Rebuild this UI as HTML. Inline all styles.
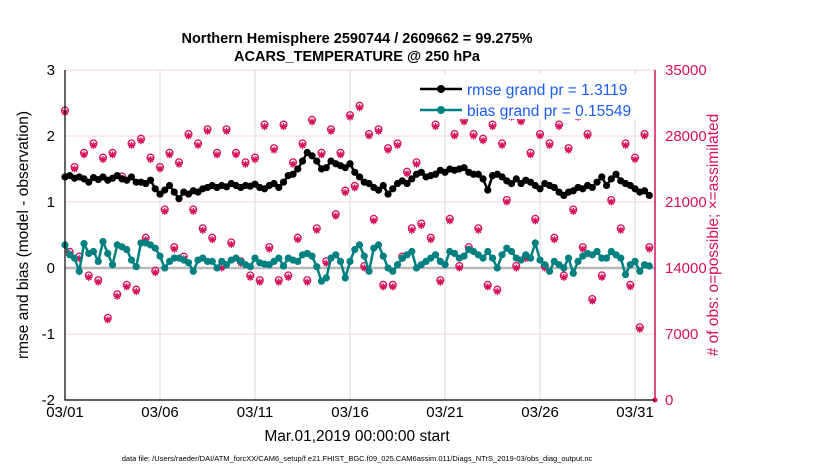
<!DOCTYPE html>
<html><head><meta charset="utf-8"><style>
body{margin:0;background:#fff;width:830px;height:470px;overflow:hidden;font-family:"Liberation Sans",sans-serif}
</style></head><body>
<svg id="chart" width="830" height="470" xmlns="http://www.w3.org/2000/svg" font-family="Liberation Sans, sans-serif">
<text x="357" y="43" text-anchor="middle" font-size="14.5" font-weight="bold">Northern Hemisphere 2590744 / 2609662 = 99.275%</text>
<text x="357" y="61" text-anchor="middle" font-size="14.5" font-weight="bold">ACARS_TEMPERATURE @ 250 hPa</text>
<g id="grid"></g>
<g id="marks"></g>
<g id="axes"></g>
<text transform="translate(28,235) rotate(-90)" text-anchor="middle" font-size="15.5">rmse and bias (model - observation)</text>
<text transform="translate(718,235) rotate(-90)" text-anchor="middle" font-size="15.5" fill="#d6105a"># of obs: o=possible; ×=assimilated</text>
<text x="357" y="441" text-anchor="middle" font-size="15.5">Mar.01,2019 00:00:00 start</text>
<text x="357" y="461" text-anchor="middle" font-size="7.5">data file: /Users/raeder/DAI/ATM_forcXX/CAM6_setup/f.e21.FHIST_BGC.f09_025.CAM6assim.011/Diags_NTrS_2019-03/obs_diag_output.nc</text>
<g>
<rect x="413" y="74" width="238" height="45" fill="#fff" stroke="none"/>
<line x1="420" y1="89" x2="462" y2="89" stroke="#000" stroke-width="2.5"/><circle cx="441" cy="89" r="4" fill="#000"/>
<text x="467" y="95" font-size="15.5" fill="#1a5cf0">rmse grand pr = 1.3119</text>
<line x1="420" y1="110" x2="462" y2="110" stroke="#008080" stroke-width="2.5"/><circle cx="441" cy="110" r="4" fill="#008080"/>
<text x="467" y="116" font-size="15.5" fill="#1a5cf0">bias grand pr = 0.15549</text>
</g>
</svg>
<script>
const rmse=[1.38,1.40,1.36,1.38,1.35,1.30,1.37,1.34,1.38,1.33,1.36,1.40,1.35,1.33,1.38,1.30,1.30,1.28,1.33,1.20,1.12,1.18,1.25,1.15,1.05,1.15,1.12,1.17,1.15,1.20,1.22,1.25,1.22,1.25,1.23,1.28,1.25,1.22,1.25,1.24,1.27,1.22,1.20,1.25,1.28,1.22,1.30,1.40,1.42,1.50,1.62,1.75,1.70,1.62,1.50,1.52,1.62,1.58,1.55,1.52,1.58,1.45,1.38,1.30,1.28,1.22,1.18,1.25,1.12,1.20,1.28,1.32,1.28,1.35,1.42,1.45,1.38,1.40,1.42,1.48,1.45,1.50,1.48,1.50,1.52,1.45,1.42,1.42,1.35,1.18,1.40,1.42,1.38,1.32,1.28,1.35,1.28,1.33,1.30,1.25,1.20,1.28,1.25,1.22,1.15,1.10,1.15,1.17,1.22,1.20,1.25,1.22,1.30,1.38,1.25,1.35,1.42,1.32,1.28,1.25,1.20,1.15,1.17,1.10];
const bias=[0.35,0.20,0.15,-0.05,0.37,0.22,0.25,0.10,0.40,0.22,0.05,0.35,0.32,0.28,0.12,0.02,0.38,0.38,0.35,0.30,0.18,0.0,0.10,0.15,0.15,0.12,0.08,-0.05,0.12,0.15,0.10,0.10,0.0,0.10,0.05,0.12,0.15,0.10,0.05,0.02,0.15,0.08,0.06,0.05,0.10,0.15,0.03,0.15,0.12,0.10,0.20,0.22,0.18,0.02,-0.20,-0.15,0.15,0.20,0.10,-0.15,0.10,0.28,0.35,0.18,-0.05,0.30,0.35,0.18,0.0,-0.05,0.05,0.15,0.20,0.25,0.0,0.05,0.10,0.15,0.20,0.10,0.05,0.25,0.22,0.15,0.18,0.28,0.25,0.20,0.15,0.25,0.15,0.0,0.20,0.30,0.25,0.15,0.12,0.20,0.15,0.38,0.12,0.05,-0.05,0.10,0.05,0.0,0.15,-0.08,0.10,0.18,0.22,0.20,0.25,0.15,0.15,0.25,0.20,0.15,-0.10,0.05,0.10,-0.05,0.05,0.03];
const nobs=[30.5,15.5,24.5,15.0,26,13,27,12.5,25.5,8.5,26,11,23.5,12,27,11.5,27.5,17,25.5,13.5,24.5,20,26,16,25,15,28,20,27,18,28.5,17,26,14,28.5,16.5,26,14.5,25,13,25.5,12.5,29,16,26.5,12.5,29,13,25,17,27,12.5,29.5,18,26,14.5,28.5,19.5,26,22,30,22.5,31,14,28,19,28.5,12,26.5,12,27,15,24,18,25,18.5,30.5,17,29,12.5,31,19,28,14,29.5,16,28,18,27.5,12,29,11.5,27,21,30,14,29.5,15,26,19,28,14,27,17,29,13,26.5,20,30,16,28,10.5,31,13,32,21,31.5,18,27,12,25.5,7.5,28,16];
const yTicksL=[3,2,1,0,-1,-2];
const yTicksR=[35000,28000,21000,14000,7000,0];
const xTickLabels=["03/01","03/06","03/11","03/16","03/21","03/26","03/31"];
const xTickDays=[0,5,10,15,20,25,30];

const X0=65,X1=655,Y0=70,Y1=400,DAYS=31.05;
const xs=d=>X0+(X1-X0)*d/DAYS;
const yL=v=>Y1-(v+2)/5*(Y1-Y0);
const yR=v=>Y1-v/35000*(Y1-Y0);
const NS="http://www.w3.org/2000/svg";
function mk(tag,attrs,parent){const e=document.createElementNS(NS,tag);for(const k in attrs)e.setAttribute(k,attrs[k]);parent.appendChild(e);return e;}
const grid=document.getElementById('grid'),marks=document.getElementById('marks'),axes=document.getElementById('axes');
mk('rect',{x:X0,y:Y0,width:X1-X0,height:Y1-Y0,fill:'#fff'},grid);
xTickDays.forEach((d,i)=>{
 const l=mk('line',{x1:xs(d),x2:xs(d),y1:Y0,y2:Y1,stroke:'#d8d8d8','stroke-width':1},grid);
 
 
 const t=mk('text',{x:xs(d),y:Y1+17,'text-anchor':'middle','font-size':15},axes);t.textContent=xTickLabels[i];
 
 
});
yTicksR.forEach(v=>{
 const l=mk('line',{x1:X0,x2:X1,y1:yR(v),y2:yR(v),stroke:'#f0d4de','stroke-width':1},grid);
 
 
 const t=mk('text',{x:X1+10,y:yR(v)+5,'font-size':15,fill:'#d6105a'},axes);t.textContent=v;
 
 
});
yTicksL.forEach(v=>{
 const t=mk('text',{x:X0-10,y:yL(v)+5,'text-anchor':'end','font-size':15},axes);t.textContent=v;
 
 
});
const zl=mk('line',{x1:X0,x2:X1,y1:yL(0),y2:yL(0),stroke:'#b8b8b8','stroke-width':2.5},grid);


nobs.forEach((v,i)=>{
 const cx=xs(i*0.25),cy=yR(v*1000);
 const g=mk('g',{},marks);
 
 
 mk('circle',{cx:cx,cy:cy-2,r:3.4,fill:'none',stroke:'#d6105a','stroke-width':1.3},g);
 mk('path',{d:`M${cx-3.5} ${cy}h7M${cx} ${cy-3.5}v7M${cx-2.5} ${cy-2.5}l5 5M${cx+2.5} ${cy-2.5}l-5 5`,stroke:'#d6105a','stroke-width':1.3},g);
});
const last=mk('circle',{cx:X1,cy:Y1,r:2.5,fill:'#d6105a'},marks);


function series(arr,color,name){
 const p=arr.map((v,i)=>`${xs(i*0.25).toFixed(1)},${yL(v).toFixed(1)}`).join(' ');
 const pl=mk('polyline',{points:p,fill:'none',stroke:color,'stroke-width':2.5},marks);
 
 
 arr.forEach((v,i)=>{const c=mk('circle',{cx:xs(i*0.25),cy:yL(v),r:3.6,fill:color},marks);
  
  });
}
series(bias,'#008080','bias');
series(rmse,'#000','rmse');
mk('path',{d:`M${X0} ${Y0}V${Y1}H${X1}`,fill:'none',stroke:'#000','stroke-width':1.2},axes);
mk('line',{x1:X1,x2:X1,y1:Y0,y2:Y1,stroke:'#d6105a','stroke-width':1.5},axes);
</script>
</body></html>
